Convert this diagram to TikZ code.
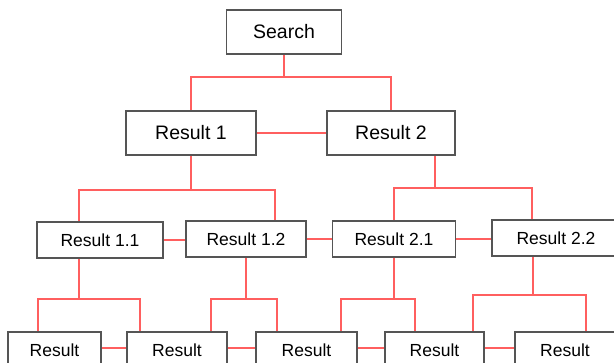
\documentclass[tikz,border=0pt]{standalone}
\usepackage{fontspec}
\setmainfont{Liberation Sans}
\definecolor{boxgray}{RGB}{85,85,85}
\definecolor{linkred}{RGB}{255,95,95}
\begin{document}
\begin{tikzpicture}[x=1pt,y=-1pt,
  box/.style={draw=boxgray, line width=1.6pt, fill=white, inner sep=0pt, minimum height=36pt},
  toplevel/.style={box, minimum height=44pt, font=\fontsize{19.5}{22}\selectfont},
  midlevel/.style={box, font=\fontsize{17.5}{20}\selectfont},
  leaf/.style={box, minimum width=100pt, font=\fontsize{17.5}{20}\selectfont},
  link/.style={draw=linkred, line width=1.6pt}]
\useasboundingbox (0,0) rectangle (614,362);
\clip (0,0) rectangle (614,362);

% boxes
\node[toplevel, minimum width=115pt] (S)  at (284,32)  {Search};
\node[toplevel, minimum width=130pt] (R1) at (191,133) {Result 1};
\node[toplevel, minimum width=128pt] (R2) at (391,133) {Result 2};
\node[midlevel, minimum width=126pt] (R11) at (100,240) {Result 1.1};
\node[midlevel, minimum width=120pt] (R12) at (246,239) {Result 1.2};
\node[midlevel, minimum width=123pt] (R21) at (394,239) {Result 2.1};
\node[midlevel, minimum width=128pt] (R22) at (556,238) {Result 2.2};
\node[leaf, minimum width=93pt]  (B1) at (54.5,350)  {Result};
\node[leaf]                      (B2) at (177,350)   {Result};
\node[leaf, minimum width=101pt] (B3) at (306.5,350) {Result};
\node[leaf, minimum width=99pt]  (B4) at (434.5,350) {Result};
\node[leaf]                      (B5) at (565,350)   {Result};

% Search -> level 1
\coordinate (jS) at ([yshift=-22pt]S.south);
\draw[link] (S.south) -- (jS);
\draw[link] (R1.north) |- (jS) -| (R2.north);

% Result 1 -> level 2
\coordinate (j1) at ([yshift=-34pt]R1.south);
\coordinate (R11in) at ([xshift=-21pt]R11.north);
\coordinate (R12in) at ([xshift=29pt]R12.north);
\draw[link] (R1.south) -- (j1);
\draw[link] (R11in) |- (j1) -| (R12in);

% Result 2 -> level 2
\coordinate (R2out) at ([xshift=44pt]R2.south);
\coordinate (j2) at ([yshift=-32pt]R2out);
\coordinate (R22in) at ([xshift=-24pt]R22.north);
\draw[link] (R2out) -- (j2);
\draw[link] (R21.north) |- (j2) -| (R22in);

% Result 1.1 -> leaves
\coordinate (R11out) at ([xshift=-21pt]R11.south);
\coordinate (j11) at ([yshift=-40pt]R11out);
\coordinate (B1in) at ([xshift=-16.5pt]B1.north);
\coordinate (B2a) at ([xshift=-37pt]B2.north);
\draw[link] (R11out) -- (j11);
\draw[link] (B1in) |- (j11) -| (B2a);

% Result 1.2 -> leaves
\coordinate (j12) at ([yshift=-41pt]R12.south);
\coordinate (B2b) at ([xshift=34pt]B2.north);
\coordinate (B3a) at ([xshift=-29.5pt]B3.north);
\draw[link] (R12.south) -- (j12);
\draw[link] (B2b) |- (j12) -| (B3a);

% Result 2.1 -> leaves
\coordinate (j21) at ([yshift=-41pt]R21.south);
\coordinate (B3b) at ([xshift=34.5pt]B3.north);
\coordinate (B4a) at ([xshift=-19.5pt]B4.north);
\draw[link] (R21.south) -- (j21);
\draw[link] (B3b) |- (j21) -| (B4a);

% Result 2.2 -> leaves
\coordinate (R22out) at ([xshift=-23pt]R22.south);
\coordinate (j22) at ([yshift=-38pt]R22out);
\coordinate (B4b) at ([xshift=38.5pt]B4.north);
\coordinate (B5in) at ([xshift=21pt]B5.north);
\draw[link] (R22out) -- (j22);
\draw[link] (B4b) |- (j22) -| (B5in);

% links between neighbours on a level
\draw[link] (R1.east) -- (R1.east -| R2.west);
\draw[link] (R11.east) -- (R11.east -| R12.west);
\draw[link] (R12.east) -- (R12.east -| R21.west);
\draw[link] (R21.east) -- (R21.east -| R22.west);
\draw[link] ([yshift=2pt]B1.east) -- ([yshift=2pt]B1.east -| B2.west);
\draw[link] ([yshift=2pt]B2.east) -- ([yshift=2pt]B2.east -| B3.west);
\draw[link] ([yshift=2pt]B3.east) -- ([yshift=2pt]B3.east -| B4.west);
\draw[link] ([yshift=2pt]B4.east) -- ([yshift=2pt]B4.east -| B5.west);
\end{tikzpicture}
\end{document}
